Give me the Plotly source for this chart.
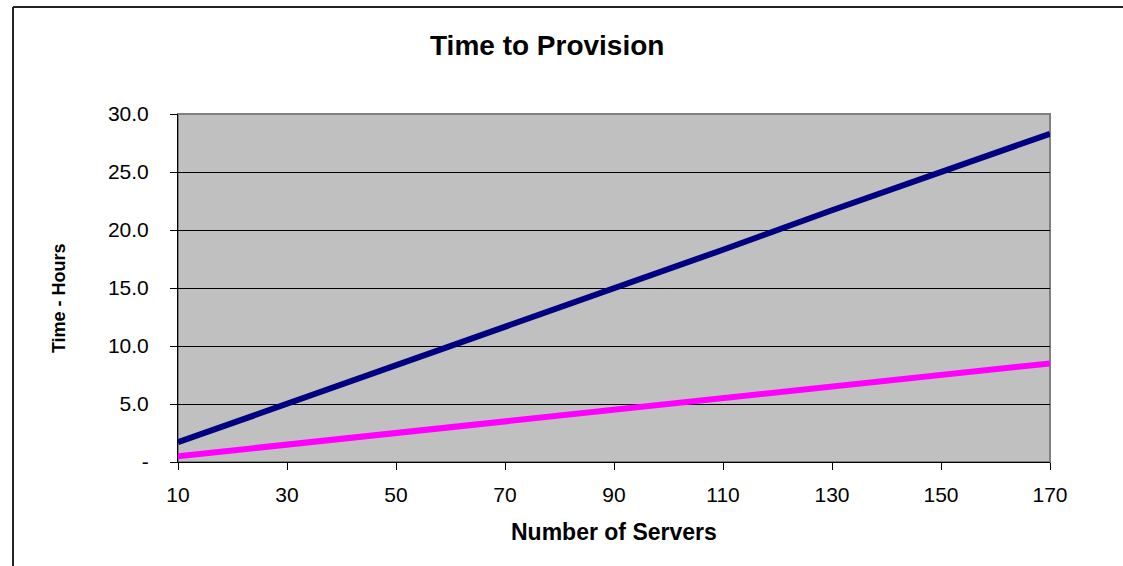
import plotly.graph_objects as go

servers = [10, 30, 50, 70, 90, 110, 130, 150, 170]
hours_a = [1.7, 5.0, 8.3, 11.7, 15.0, 18.3, 21.7, 25.0, 28.3]
hours_b = [0.5, 1.5, 2.5, 3.5, 4.5, 5.5, 6.5, 7.5, 8.5]
y_ticks = [0, 5, 10, 15, 20, 25, 30]
y_labels = ['-', '5.0', '10.0', '15.0', '20.0', '25.0', '30.0']
x_ticks = [10, 30, 50, 70, 90, 110, 130, 150, 170]

font_family = 'Liberation Sans, Arial, sans-serif'

fig = go.Figure()
fig.add_trace(go.Scatter(x=servers, y=hours_a, mode='lines', name='Series 1',
                         line=dict(color='#000080', width=6)))
fig.add_trace(go.Scatter(x=servers, y=hours_b, mode='lines', name='Series 2',
                         line=dict(color='#FF00FF', width=6)))

fig.update_layout(
    width=1123, height=566,
    margin=dict(l=178, r=73, t=114, b=104),
    paper_bgcolor='white', plot_bgcolor='#C0C0C0',
    showlegend=False,
    font=dict(family=font_family, color='black', size=21),
)

fig.update_xaxes(range=[10, 170], tickvals=x_ticks, ticks='outside', ticklen=7, tickcolor='black',
                 showline=True, linecolor='black', linewidth=1, showgrid=False, zeroline=False,
                 ticklabelstandoff=7, tickfont=dict(size=21))
fig.update_yaxes(range=[0, 30], tickvals=y_ticks, ticktext=y_labels, ticks='outside', ticklen=7,
                 tickcolor='black', showline=True, linecolor='black', linewidth=1,
                 showgrid=True, gridcolor='black', gridwidth=1, zeroline=False,
                 ticklabelstandoff=17, tickfont=dict(size=21))

# grey plot-area border on top/right
fig.add_shape(type='rect', xref='paper', yref='paper', x0=0, x1=1, y0=0, y1=1,
              line=dict(color='#808080', width=2), layer='below')
# outer chart border (only left and top visible in the crop)
fig.add_shape(type='line', xref='paper', yref='paper', x0=-0.1892, x1=-0.1892, y0=-0.32, y1=1.3075,
              line=dict(color='#222222', width=2))
fig.add_shape(type='line', xref='paper', yref='paper', x0=-0.1892, x1=1.1, y0=1.3075, y1=1.3075,
              line=dict(color='#222222', width=2))

fig.add_annotation(text='<b>Time to Provision</b>', xref='paper', yref='paper', x=0.4232, y=1.198,
                   showarrow=False, font=dict(size=28), xanchor='center', yanchor='middle')
fig.add_annotation(text='<b>Number of Servers</b>', xref='paper', yref='paper', x=0.5, y=-0.201,
                   showarrow=False, font=dict(size=23), xanchor='center', yanchor='middle')
fig.add_annotation(text='<b>Time - Hours</b>', xref='paper', yref='paper', x=-0.1365, y=0.471,
                   showarrow=False, font=dict(size=18), textangle=-90, xanchor='center', yanchor='middle')

fig.write_html('out.html', config={'displayModeBar': False},
               post_script="document.body.style.margin='0';document.body.style.overflow='hidden';")
